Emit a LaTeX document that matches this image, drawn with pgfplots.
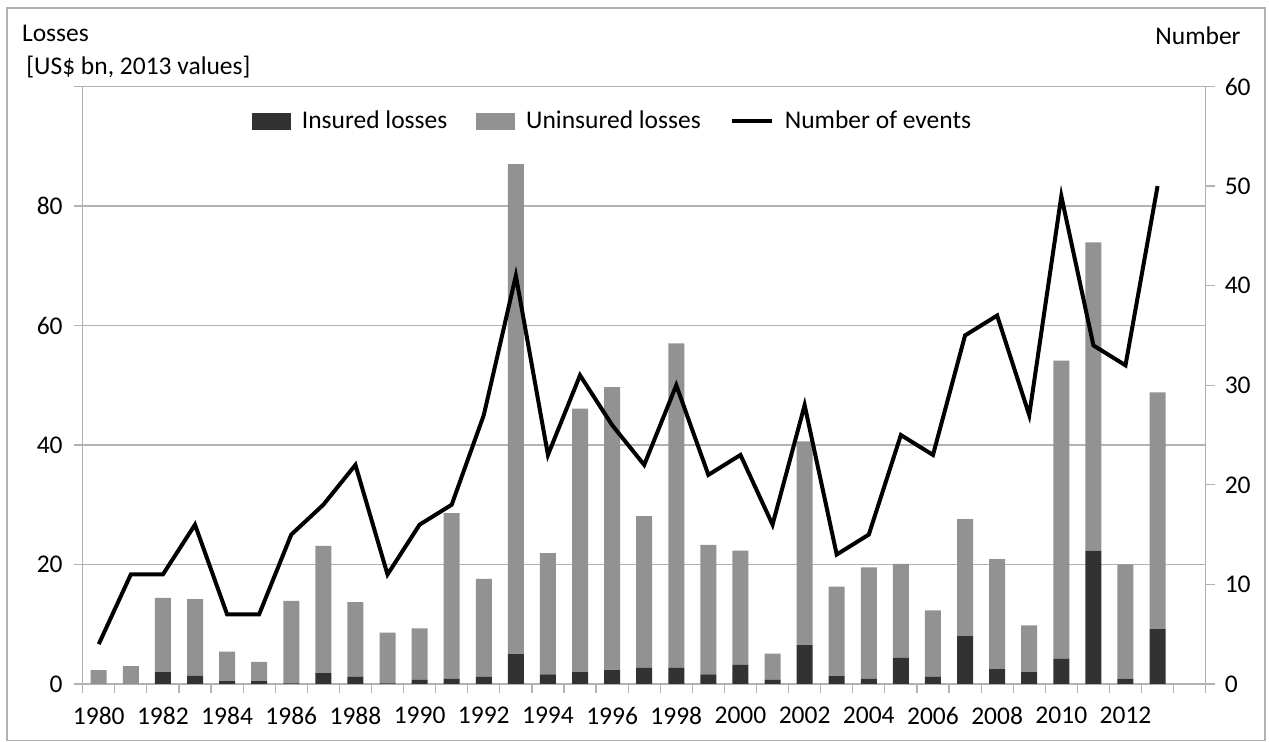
\documentclass[border=0pt]{standalone}
\usepackage{fontspec}
\setmainfont{Carlito}
\usepackage{pgfplots}
\pgfplotsset{compat=1.18}
\usepackage{pgfplotstable}
\definecolor{ins}{RGB}{50,50,50}
\definecolor{unins}{RGB}{146,146,146}
\definecolor{gridc}{RGB}{178,178,178}
\pgfplotstableread{
x ins unins n
0 0.0 2.3 4
1 0.0 3.0 11
2 2.0 12.4 11
3 1.4 12.8 16
4 0.5 4.9 7
5 0.5 3.2 7
6 0.1 13.8 15
7 1.8 21.3 18
8 1.2 12.5 22
9 0.1 8.5 11
10 0.7 8.6 16
11 0.9 27.7 18
12 1.2 16.4 27
13 5.0 82.0 41
14 1.6 20.3 23
15 2.0 44.1 31
16 2.3 47.4 26
17 2.7 25.4 22
18 2.7 54.3 30
19 1.6 21.7 21
20 3.2 19.1 23
21 0.7 4.4 16
22 6.5 34.1 28
23 1.3 15.0 13
24 0.9 18.6 15
25 4.4 15.7 25
26 1.2 11.1 23
27 8.0 19.6 35
28 2.5 18.4 37
29 2.0 7.8 27
30 4.2 49.9 49
31 22.3 51.6 34
32 0.9 19.1 32
33 9.2 39.6 50
}\data
\newcommand\fs{\fontsize{12.75}{15.3}\selectfont}
\begin{document}
\begin{tikzpicture}
\fill[white] (0,0) rectangle (634.5pt,371pt);
\draw[gridc, line width=0.6pt] (3.5pt,0.6pt) rectangle (632.5pt,367pt);
\node[anchor=base west, inner sep=0pt, font=\fs] at (10.85pt,350.15pt) {Losses};
\node[anchor=base west, inner sep=0pt, font=\fs] at (13pt,333.6pt) {[US\$ bn, 2013 values]};
\node[anchor=base east, inner sep=0pt, font=\fs] at (620.5pt,348.5pt) {Number};
\begin{axis}[
  at={(41.35pt,29pt)}, anchor=south west, scale only axis,
  width=561.5pt, height=298.75pt,
  xmin=-0.5, xmax=34.5, ymin=0, ymax=100,
  ybar stacked, bar width=8pt,
  xtick={0,2,...,32},
  xticklabels={1980,1982,1984,1986,1988,1990,1992,1994,1996,1998,2000,2002,2004,2006,2008,2010,2012},
  major x tick style={draw=none},
  minor xtick={-0.5,0.5,...,34.5},
  ytick={0,20,...,100}, yticklabels={0,20,40,60,80,{}},
  ymajorgrids, grid style={gridc, line width=0.6pt},
  axis line style={gridc, line width=0.6pt},
  tick style={gridc, line width=0.6pt},
  tick align=outside, major tick length=4.5pt, minor tick length=4.5pt,
  xtick pos=left, ytick pos=left,
  tick label style={font=\fs, text=black},
  xticklabel style={yshift=-3.5pt},
  yticklabel style={xshift=-2pt},
]
\addplot[fill=ins, draw=none] table[x=x,y=ins]{\data};
\addplot[fill=unins, draw=none] table[x=x,y=unins]{\data};
\end{axis}
\begin{axis}[
  at={(41.35pt,29pt)}, anchor=south west, scale only axis,
  width=561.5pt, height=298.75pt,
  xmin=-0.5, xmax=34.5, ymin=0, ymax=60,
  axis x line=none, axis y line=right,
  axis line style={-, gridc, line width=0.6pt},
  ytick={0,10,...,60}, yticklabels={0,10,20,30,40,50,60},
  ytick pos=right,
  tick style={gridc, line width=0.6pt},
  tick align=outside, major tick length=4.5pt,
  tick label style={font=\fs, text=black},
  yticklabel style={xshift=1.5pt},
  legend style={at={(0.4727,0.942)}, anchor=center, draw=none, fill=none, font=\fs,
    /tikz/every odd column/.append style={column sep=3.5pt},
    /tikz/every even column/.append style={column sep=12.5pt}},
  legend columns=3, legend cell align=left,
]
\addlegendimage{legend image code/.code={\fill[ins] (0pt,-4pt) rectangle (19pt,4pt);}}
\addlegendentry{Insured losses}
\addlegendimage{legend image code/.code={\fill[unins] (0pt,-4pt) rectangle (19pt,4pt);}}
\addlegendentry{Uninsured losses}
\addplot[black, line width=2pt, line join=miter, miter limit=10,
  legend image code/.code={\draw[black,line width=2pt] (0pt,0pt) -- (20pt,0pt);}]
  table[x=x,y=n]{\data};
\addlegendentry{Number of events}
\end{axis}
\end{tikzpicture}
\end{document}
